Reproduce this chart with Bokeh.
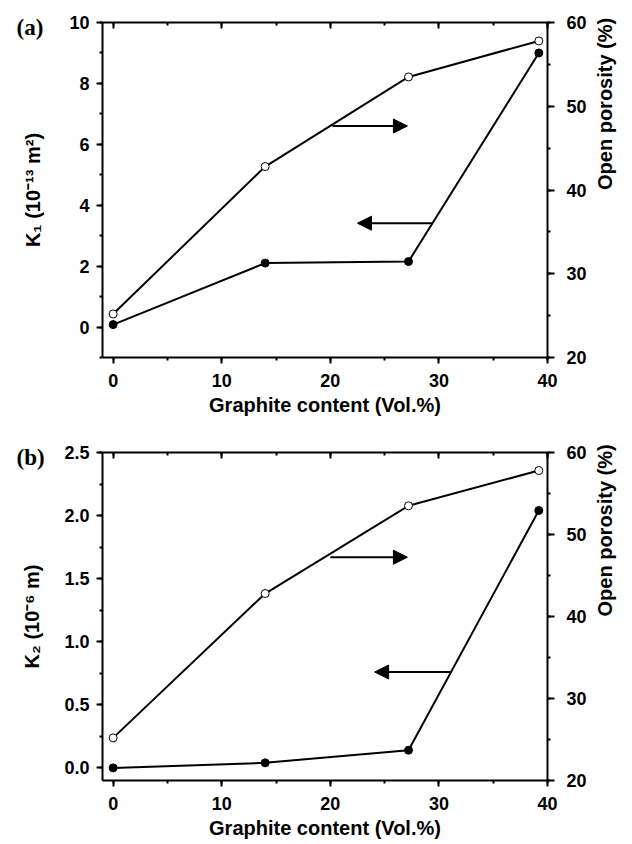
import math
from bokeh.plotting import figure
from bokeh.models import (Range1d, LinearAxis, SingleIntervalTicker, Arrow, NormalHead,
                          Title, ColumnDataSource, CustomJSTickFormatter, NumeralTickFormatter,
                          BasicTickFormatter)
from bokeh.layouts import column
from bokeh.embed import file_html
from bokeh.resources import INLINE

# ---------------- data ----------------
graphite = [0.0, 14.0, 27.2, 39.2]          # Graphite content (Vol.%)
k1 = [0.08, 2.10, 2.15, 9.00]                # K1 (1e-13 m^2)
k2 = [0.00, 0.04, 0.14, 2.04]                # K2 (1e-6 m)
porosity = [25.2, 42.8, 53.5, 57.8]          # Open porosity (%)

x_label = "Graphite content (Vol.%)"
k1_label = "K\u2081 (10\u207b\u00b9\u00b3 m\u00b2)"
k2_label = "K\u2082 (10\u207b\u2076 m)"
por_label = "Open porosity (%)"

# arrow annotations (x_start, x_end, y) in left-axis data units
arrows_a = [(20.2, 27.1, 6.60), (29.4, 22.5, 3.41)]
arrows_b = [(20.0, 27.1, 1.67), (31.06, 24.08, 0.76)]

FONT = "Liberation Sans"


def style_axis(ax):
    ax.axis_line_width = 2
    ax.axis_line_color = "black"
    ax.major_tick_line_width = 2
    ax.minor_tick_line_width = 2
    ax.major_tick_line_color = "black"
    ax.minor_tick_line_color = "black"
    ax.major_tick_in = 0
    ax.major_tick_out = 6
    ax.minor_tick_in = 0
    ax.minor_tick_out = 3
    ax.major_label_text_font = FONT
    ax.major_label_text_font_style = "bold"
    ax.major_label_text_font_size = "18px"
    ax.major_label_text_color = "black"
    ax.axis_label_text_font = FONT
    ax.axis_label_text_font_style = "bold"
    ax.axis_label_text_font_size = "20px"
    ax.axis_label_text_color = "black"


def make_panel(kvals, yr, yint, yfmt, ylabel, tag, arrows, height, top, bottom, lstand):
    p = figure(width=632, height=height, x_range=Range1d(-0.98, 40), y_range=Range1d(*yr),
               output_backend="svg", toolbar_location=None,
               min_border_left=102, min_border_right=85, min_border_top=top,
               min_border_bottom=bottom, x_axis_location=None, y_axis_location=None)
    p.extra_y_ranges = {"por": Range1d(20, 60)}
    p.outline_line_color = None
    p.xgrid.visible = False
    p.ygrid.visible = False
    p.background_fill_color = "white"
    p.border_fill_color = "white"

    ax_b = LinearAxis(ticker=SingleIntervalTicker(interval=10, num_minor_ticks=2),
                      axis_label=x_label)
    style_axis(ax_b)
    ax_b.major_label_standoff = 10
    ax_b.axis_label_standoff = 4
    p.add_layout(ax_b, "below")

    ax_t = LinearAxis(ticker=SingleIntervalTicker(interval=10, num_minor_ticks=2),
                      formatter=CustomJSTickFormatter(code="return ''"))
    style_axis(ax_t)
    ax_t.major_tick_in = 6
    ax_t.major_tick_out = 0
    ax_t.minor_tick_in = 3
    ax_t.minor_tick_out = 0
    ax_t.major_label_standoff = 0
    ax_t.major_label_text_font_size = "0px"
    p.add_layout(ax_t, "above")

    ax_l = LinearAxis(ticker=SingleIntervalTicker(interval=yint, num_minor_ticks=2),
                      axis_label=ylabel, formatter=yfmt)
    style_axis(ax_l)
    ax_l.major_label_standoff = 7
    ax_l.axis_label_standoff = lstand
    p.add_layout(ax_l, "left")

    ax_r = LinearAxis(y_range_name="por", ticker=SingleIntervalTicker(interval=10, num_minor_ticks=2),
                      axis_label=por_label, axis_label_orientation=math.pi / 2)
    style_axis(ax_r)
    ax_r.major_tick_out = 7
    ax_r.major_label_standoff = 12
    ax_r.axis_label_standoff = 15
    p.add_layout(ax_r, "right")

    src = ColumnDataSource(dict(x=graphite, k=kvals, por=porosity))
    p.line("x", "k", source=src, line_width=2, line_color="black")
    p.line("x", "por", source=src, y_range_name="por", line_width=2, line_color="black")
    p.scatter("x", "k", source=src, size=8, fill_color="black", line_color="black")
    p.scatter("x", "por", source=src, y_range_name="por", size=8,
              fill_color="white", line_color="black", line_width=1)

    for xs, xe, yy in arrows:
        p.add_layout(Arrow(end=NormalHead(size=14, fill_color="black", line_color="black", line_width=1),
                           x_start=xs, y_start=yy, x_end=xe, y_end=yy,
                           line_width=2, line_color="black"))

    p.add_layout(Title(text=tag, align="left", offset=-86, standoff=-34,
                       text_font="Liberation Serif", text_font_style="bold",
                       text_font_size="23px", text_color="black"), "above")
    return p


pa = make_panel(k1, (-1, 10), 2, BasicTickFormatter(), k1_label, "(a)", arrows_a, 422, 22, 65, 22)
pb = make_panel(k2, (-0.1, 2.5), 0.5, NumeralTickFormatter(format="0.0"), k2_label, "(b)",
                arrows_b, 422, 30, 64, 18)

layout = column(pa, pb, spacing=0)
open("out.html", "w").write(file_html(layout, INLINE))
